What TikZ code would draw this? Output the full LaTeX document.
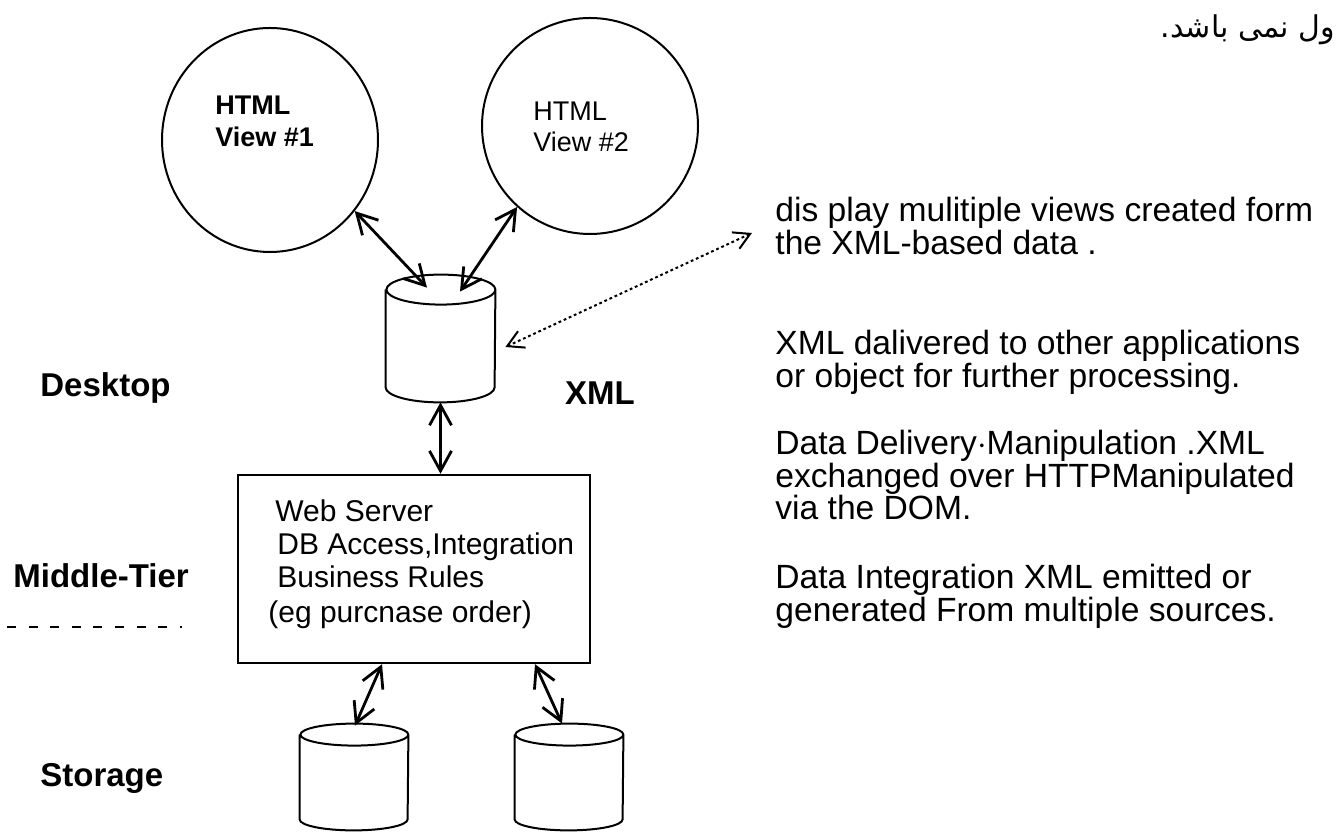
\documentclass[tikz,border=0pt]{standalone}
\usepackage{fontspec}
\setmainfont{Liberation Sans}
\newfontfamily\arabicfont[Script=Arabic]{DejaVu Sans}
\TeXXeTstate=1
\usetikzlibrary{arrows.meta,shapes.geometric,calc}

% drum outline drawn inside a (blank) rectangle node: #1 name, #2 x radius, #3 y radius
\newcommand\drumshape[3]{%
  \draw[drumline] ($(#1.north west)+(0,-#3)$) -- ($(#1.south west)+(0,#3)$)
    arc[start angle=180,end angle=360,x radius=#2,y radius=#3]
    -- ($(#1.north east)+(0,-#3)$)
    arc[start angle=0,end angle=360,x radius=#2,y radius=#3];}

\tikzset{
  view/.style={ellipse, draw, line width=1pt, inner sep=0},
  drumbox/.style={rectangle, inner sep=0},
  drumline/.style={line width=1pt},
  tier/.style={rectangle, draw, line width=1.2pt, inner sep=0},
  vtxt/.style={anchor=base west, inner sep=0, font=\fontsize{13.5}{16}\selectfont},
  btxt/.style={anchor=base west, inner sep=0, font=\fontsize{15}{17}\selectfont},
  rtxt/.style={anchor=base west, inner sep=0, font=\fontsize{16.8}{19}\selectfont},
  layer/.style={anchor=base west, inner sep=0, font=\bfseries\fontsize{16.5}{19}\selectfont},
  link/.style={line width=1.4pt,
    {Straight Barb[length=10pt,width=11pt]}-{Straight Barb[length=10pt,width=11pt]}},
  dotlink/.style={line width=1pt, dash pattern=on 1.4pt off 1.4pt,
    {Straight Barb[length=8pt,width=9pt]}-{Straight Barb[length=8pt,width=9pt]}},
  tierline/.style={line width=1.2pt, dash pattern=on 4.5pt off 6.3pt},
}

\begin{document}
\begin{tikzpicture}[x=0.5pt,y=0.5pt]
\fill[white] (0,0) rectangle (1338,834);
\useasboundingbox (0,0) rectangle (1338,834);

% heading fragment
\node[anchor=east, inner sep=0, font=\arabicfont\fontsize{15}{17}\selectfont] (fa) at (1335,804) {\beginR ول نمی باشد.\endR};

% HTML views
\node[view, minimum width=108pt, minimum height=112pt] (v1) at (270,694) {};
\node[view, minimum width=108pt, minimum height=108pt] (v2) at (590,708) {};
\node[vtxt, font=\bfseries\fontsize{13.5}{16}\selectfont] (v1a) at (215,719) {HTML};
\node[vtxt, font=\bfseries\fontsize{13.5}{16}\selectfont] (v1b) at (215,687) {View \#1};
\node[vtxt] (v2a) at (533,713) {HTML};
\node[vtxt] (v2b) at (533,682) {View \#2};

% desktop XML store
\node[drumbox, minimum width=54.5pt, minimum height=63.5pt] (desk) at (440.5,495.5) {};
\drumshape{desk}{54.5}{15}
\coordinate (dk1) at ($(desk.north)+(-13.5,-13)$);
\coordinate (dk2) at ($(desk.north)+(19.5,-17)$);
\coordinate (dkr) at ($(desk.east)+(10,-8.5)$);
\coordinate (dotend) at (752,601);

% middle tier
\node[tier, minimum width=176pt, minimum height=94pt] (mid) at (414,265) {};
\node[btxt] (m1) at (275,312) {Web Server};
\node[btxt] (m2) at (277,279) {DB Access,Integration};
\node[btxt] (m3) at (277,246) {Business Rules};
\node[btxt] (m4) at (268,211) {(eg purcnase order)};

% storage
\node[drumbox, minimum width=54pt, minimum height=53pt] (st1) at (354,57) {};
\drumshape{st1}{54}{11}
\node[drumbox, minimum width=54pt, minimum height=53pt] (st2) at (569,57) {};
\drumshape{st2}{54}{11}

% connectors
\draw[link] (v1.-40) -- (dk1);
\draw[link] (v2.-132) -- (dk2);
\draw[link] (desk.south) -- (desk.south |- mid.north);
\draw[link] ($(mid.south)+(-32,0)$) -- ($(st1.north)+(1,-2)$);
\draw[link] ($(mid.south)+(121,0)$) -- ($(st2.north)+(-7,0)$);
\draw[dotlink] (dotend) -- (dkr);

% labels
\node[inner sep=0, font=\bfseries\fontsize{16.5}{19}\selectfont] (xml) at (600,441) {XML};
\node[layer] (ld) at (40,437) {Desktop};
\node[layer] (lm) at (13,246) {Middle-Tier};
\node[layer] (ls) at (40,47) {Storage};
\coordinate (dl) at (7,207);
\coordinate (dr) at (182,207);
\draw[tierline] (dl) -- (dr);

% notes
\node[rtxt] (t1) at (775,612) {dis play mulitiple views created form};
\node[rtxt] (t2) at (775,579) {the XML-based data .};
\node[rtxt] (t3) at (775,479) {XML dalivered to other applications};
\node[rtxt] (t4) at (775,446) {or object for further processing.};
\node[rtxt] (t5) at (775,379) {Data Delivery$\cdot$Manipulation .XML};
\node[rtxt] (t6) at (775,346) {exchanged over HTTPManipulated};
\node[rtxt] (t7) at (775,314) {via the DOM.};
\node[rtxt] (t8) at (775,245) {Data Integration XML emitted or};
\node[rtxt] (t9) at (775,212) {generated From multiple sources.};
\end{tikzpicture}
\end{document}
